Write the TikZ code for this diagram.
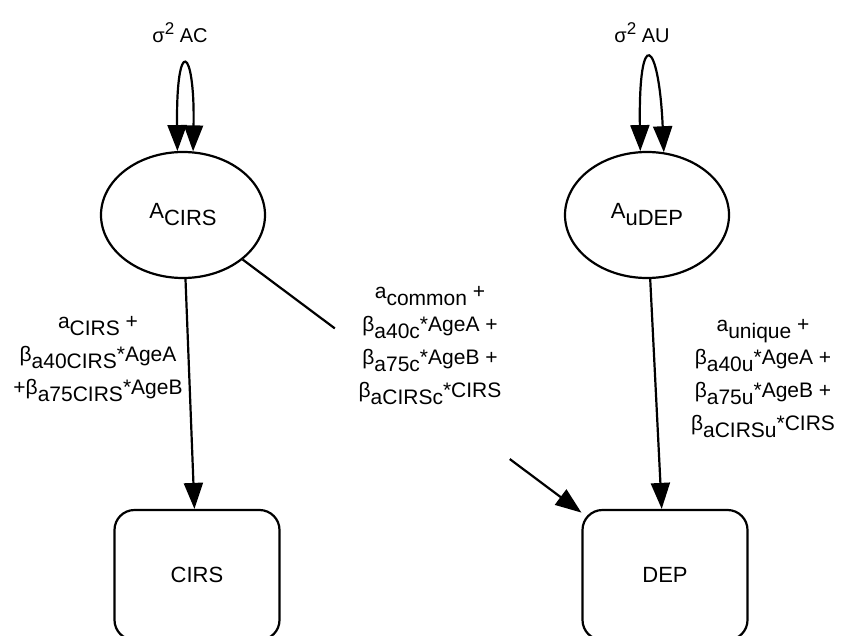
\documentclass[tikz,border=0pt]{standalone}
\usepackage{fontspec}
\setmainfont{Liberation Sans}
\usepackage{tikz}
\usetikzlibrary{
    positioning,
    arrows.meta,
    calc,
    shapes.geometric
}
\newcommand{\lo}[1]{\raisebox{-7pt}{#1}}
\newcommand{\hi}[1]{\raisebox{8pt}{\fontsize{17}{17}\selectfont #1}}

\begin{document}
\begin{tikzpicture}[x=1pt, y=-1pt, line width=2.2pt,
    font=\fontsize{20}{24}\selectfont,
    latent/.style={draw, ellipse, minimum width=164pt, minimum height=126pt, inner sep=0pt,
        font=\fontsize{22}{26}\selectfont},
    observed/.style={draw, rounded corners=20pt, minimum width=165pt, minimum height=130pt,
        font=\fontsize{22}{26}\selectfont},
    pathlabel/.style={align=center, font=\fontsize{21}{33}\selectfont},
    arr/.style={-{Triangle[length=26pt, width=19pt]}},
    loop/.style={{Triangle[length=26pt, width=19pt]}-{Triangle[length=26pt, width=19pt]}}]
            \useasboundingbox (0,0) rectangle (842,636);

            \node[latent] (acirs) at (183,215) {A\lo{CIRS}};
            \node[latent] (audep) at (647,215) {A\lo{uDEP}};
            \node[observed] (cirs) at (197,575) {CIRS};
            \node[observed] (dep) at (665,575) {DEP};

            % variances
            \node (varac) at (180,33) {σ\hi{2} AC};
            \node (varau) at (642,33) {σ\hi{2} AU};
            \draw[loop] (acirs.95) .. controls +(-1.5,-116) and +(2,-106) .. (acirs.81);
            \draw[loop] (audep.96) .. controls +(-2,-126) and +(-5,-114) .. (audep.75);

            % paths
            \draw[arr] (acirs) -- (cirs);
            \draw[arr] (audep) -- (dep);
            \draw (acirs) -- ($(acirs)!.315!(dep)$);
            \draw[arr] ($(acirs)!.678!(dep)$) -- (dep);

            \node[pathlabel] (lblcirs) at (98,359) {a\lo{CIRS} +\\ β\lo{a40CIRS}*AgeA\\ +β\lo{a75CIRS}*AgeB};
            \node[pathlabel] (lblcom) at (430,346) {a\lo{common} +\\ β\lo{a40c}*AgeA +\\ β\lo{a75c}*AgeB +\\ β\lo{aCIRSc}*CIRS};
            \node[pathlabel] (lbluni) at (763,379) {a\lo{unique} +\\ β\lo{a40u}*AgeA +\\ β\lo{a75u}*AgeB +\\ β\lo{aCIRSu}*CIRS};
\end{tikzpicture}
\end{document}
